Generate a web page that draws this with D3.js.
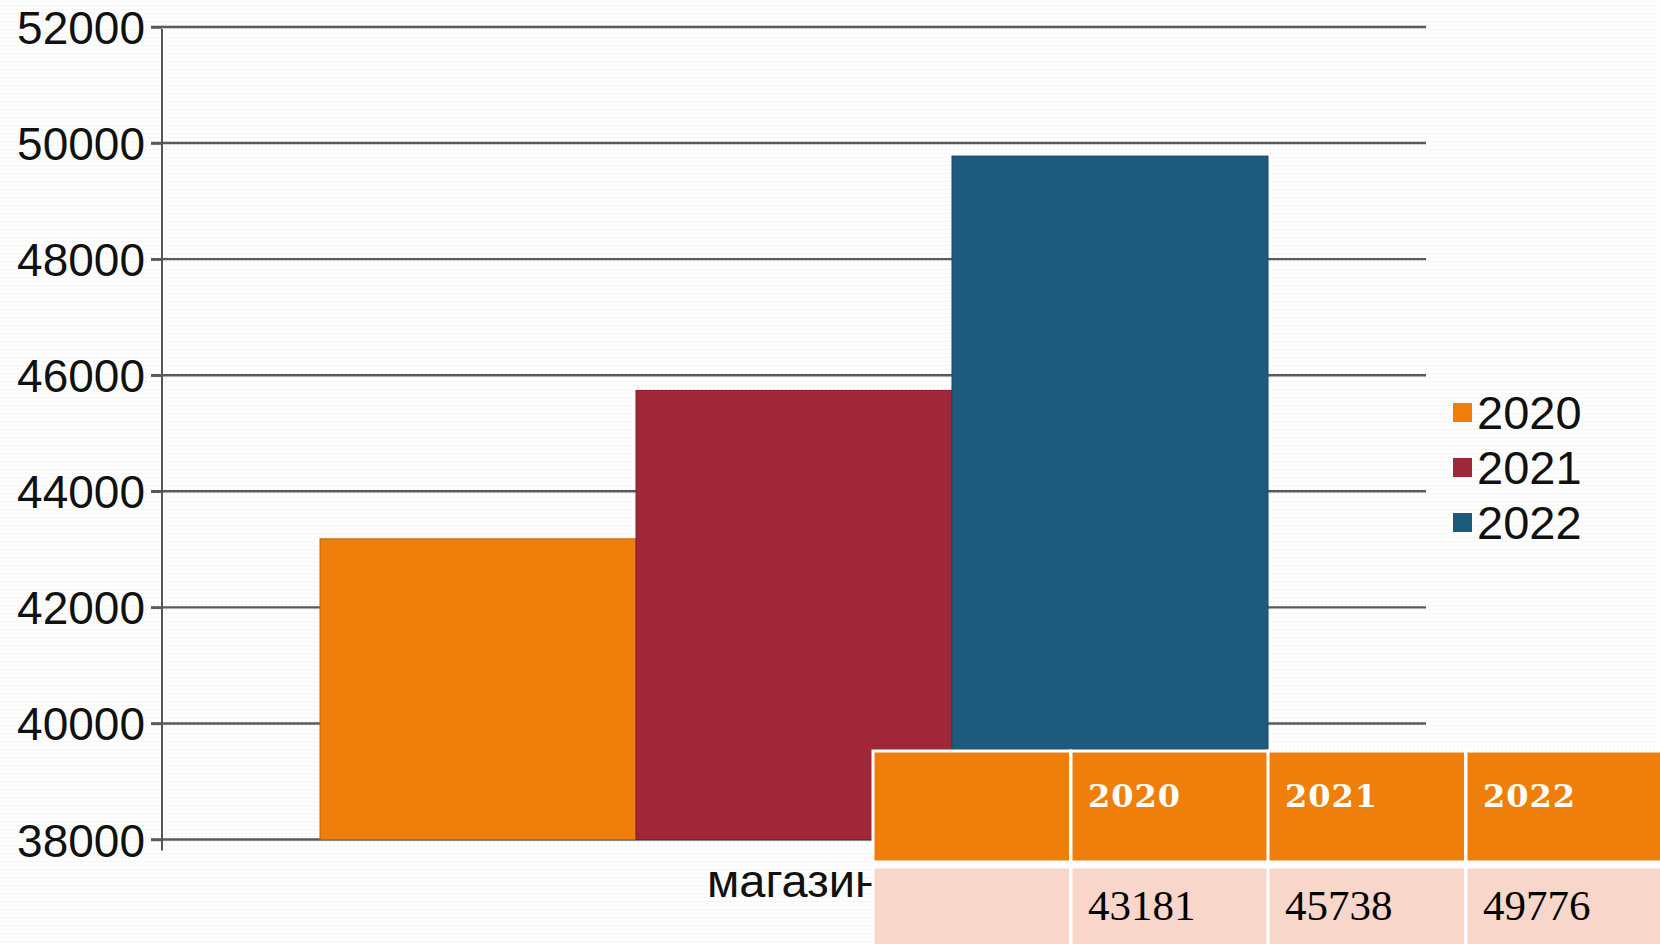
<!DOCTYPE html>
<html>
<head>
<meta charset="utf-8">
<script src="https://cdn.jsdelivr.net/npm/d3@7"></script>
<style>
  html, body { margin: 0; padding: 0; background: #fff; }
  svg { display: block; }
</style>
</head>
<body>
<script>
var categories = ["магазин"];
var years = ["2020", "2021", "2022"];
var values = [43181, 45738, 49776];
var colors = ["#ef7f0a", "#a02737", "#1e5a7c"];
var yTicks = [38000, 40000, 42000, 44000, 46000, 48000, 50000, 52000];
var tableHead = ["", "2020", "2021", "2022"];
var tableRow = ["", "43181", "45738", "49776"];

var W = 1660, H = 944;
var chart = {};

chart.svg = d3.select("body").append("svg").attr("width", W).attr("height", H);

// faint dotted backdrop
var defs = chart.svg.append("defs");
var pat = defs.append("pattern").attr("id", "dots")
  .attr("width", 4).attr("height", 4).attr("patternUnits", "userSpaceOnUse");
pat.append("rect").attr("width", 4).attr("height", 4).attr("fill", "#fff");
pat.append("rect").attr("x", 1).attr("y", 1).attr("width", 2).attr("height", 1).attr("fill", "#f1f1f1");
chart.svg.append("rect").attr("width", W).attr("height", H).attr("fill", "url(#dots)");

var plotL = 162, plotR = 1426, plotT = 27, plotB = 839.5;

var y = d3.scaleLinear().domain([38000, 52000]).range([plotB, plotT]);
var x0 = d3.scaleBand().domain(categories).range([plotL, plotR]);
var x1 = d3.scaleBand().domain(years)
  .range([x0(categories[0]) + x0.bandwidth() * 0.125, x0(categories[0]) + x0.bandwidth() * 0.875]);

// gridlines (start at the tick mark)
chart.svg.selectAll("line.grid").data(yTicks).enter()
  .append("line")
  .attr("class", "grid")
  .attr("x1", plotL - 11).attr("x2", plotR)
  .attr("y1", function(d){ return y(d); })
  .attr("y2", function(d){ return y(d); })
  .attr("stroke", "#5a5a5a").attr("stroke-width", 2.4);

// y axis labels via d3 axis
var yAxis = d3.axisLeft(y).tickValues(yTicks).tickSize(11).tickPadding(6).tickFormat(d3.format("d"));
var ga = chart.svg.append("g").attr("transform", "translate(" + plotL + ",0)").call(yAxis);
ga.select(".domain").remove();
ga.selectAll(".tick line").attr("stroke", "#5a5a5a").attr("stroke-width", 2.4);
ga.selectAll(".tick text")
  .attr("font-family", "Liberation Sans, Arial, sans-serif")
  .attr("font-size", 46).attr("fill", "#111").attr("dy", "0.36em");

// bars
chart.svg.selectAll("rect.bar").data(values).enter()
  .append("rect")
  .attr("class", "bar")
  .attr("x", function(d, i){ return x1(years[i]); })
  .attr("y", function(d){ return y(d); })
  .attr("width", x1.bandwidth())
  .attr("height", function(d){ return y(38000) - y(d); })
  .attr("fill", function(d, i){ return colors[i]; })
  .attr("stroke", function(d, i){ return d3.color(colors[i]).darker(0.6); })
  .attr("stroke-width", 1);

// y axis line
chart.svg.append("line")
  .attr("x1", plotL).attr("x2", plotL)
  .attr("y1", plotT + 2).attr("y2", plotB + 11)
  .attr("stroke", "#555").attr("stroke-width", 2);

// category label
chart.svg.selectAll("text.cat").data(categories).enter()
  .append("text")
  .attr("class", "cat")
  .attr("x", function(d){ return x0(d) + x0.bandwidth() / 2; })
  .attr("y", 897)
  .attr("text-anchor", "middle")
  .attr("font-family", "Liberation Sans, Arial, sans-serif")
  .attr("font-size", 47).attr("fill", "#111")
  .text(function(d){ return d; });

// legend
var leg = chart.svg.selectAll("g.leg").data(years).enter()
  .append("g").attr("class", "leg")
  .attr("transform", function(d, i){ return "translate(1453," + (403 + i * 55) + ")"; });
leg.append("rect").attr("width", 19).attr("height", 19)
  .attr("fill", function(d, i){ return colors[i]; });
leg.append("text").attr("x", 24).attr("y", 26)
  .attr("font-family", "Liberation Sans, Arial, sans-serif")
  .attr("font-size", 47).attr("fill", "#111")
  .text(function(d){ return d; });

// data table (lower right)
var colX = [873, 1071, 1268, 1466];
var colW = 197.5;
var tbl = chart.svg.append("g");
tbl.selectAll("rect.head").data(tableHead).enter()
  .append("rect").attr("class", "head")
  .attr("x", function(d, i){ return colX[i]; })
  .attr("y", 751)
  .attr("width", colW).attr("height", 111)
  .attr("fill", "#ef7f0a").attr("stroke", "#fff").attr("stroke-width", 3);
tbl.selectAll("rect.body").data(tableRow).enter()
  .append("rect").attr("class", "body")
  .attr("x", function(d, i){ return colX[i]; })
  .attr("y", 867)
  .attr("width", colW).attr("height", 90)
  .attr("fill", "#f8d6ca").attr("stroke", "#fff").attr("stroke-width", 3);
tbl.append("rect").attr("x", 873).attr("y", 861).attr("width", W - 873).attr("height", 7).attr("fill", "#fff");
tbl.selectAll("text.head").data(tableHead).enter()
  .append("text").attr("class", "head")
  .attr("x", function(d, i){ return colX[i] + 17; })
  .attr("y", 807)
  .attr("font-family", "DejaVu Serif, serif").attr("font-weight", "bold")
  .attr("font-size", 32).attr("letter-spacing", 1).attr("fill", "#fff")
  .text(function(d){ return d; });
tbl.selectAll("text.body").data(tableRow).enter()
  .append("text").attr("class", "body")
  .attr("x", function(d, i){ return colX[i] + 17; })
  .attr("y", 920)
  .attr("font-family", "Liberation Serif, serif")
  .attr("font-size", 43).attr("fill", "#000")
  .text(function(d){ return d; });
</script>
</body>
</html>
